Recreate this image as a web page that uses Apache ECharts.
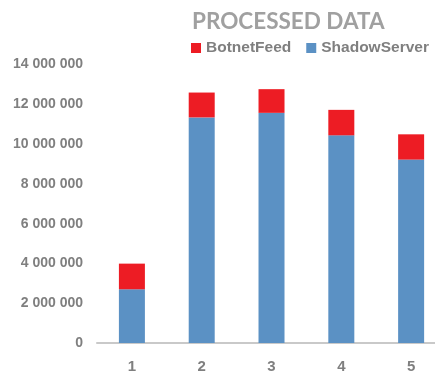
<!DOCTYPE html>
<html>
<head>
<meta charset="utf-8">
<script src="https://cdn.jsdelivr.net/npm/echarts@6/dist/echarts.min.js"></script>
<style>
html,body{margin:0;padding:0;background:#fff;}
#chart{width:435px;height:374px;}
</style>
</head>
<body>
<div id="chart"></div>
<script>
var categories = ['1', '2', '3', '4', '5'];
var shadowServer = [2700000, 11340000, 11570000, 10440000, 9220000];
var botnetFeed = [1290000, 1250000, 1190000, 1280000, 1270000];
var yTicks = [0, 2000000, 4000000, 6000000, 8000000, 10000000, 12000000, 14000000];

function fmt(v) {
  return String(v).replace(/\B(?=(\d{3})+(?!\d))/g, ' ');
}
// value first, category index second, so the stack applies to the value dimension
function pairs(arr) {
  return arr.map(function (v, i) { return [v, i]; });
}
var catIdx = categories.map(function (c, i) { return i; });

var chart = echarts.init(document.getElementById('chart'), null, {renderer: 'canvas'});
chart.setOption({
  animation: false,
  backgroundColor: '#ffffff',
  title: {
    text: 'PROCESSED DATA',
    left: 192,
    top: 10,
    padding: 0,
    textStyle: {
      fontFamily: 'Lato',
      fontWeight: 'bold',
      fontSize: 22.5,
      color: '#a0a0a0'
    }
  },
  legend: {
    data: ['BotnetFeed', 'ShadowServer'],
    left: 186,
    top: 35,
    itemWidth: 10,
    itemHeight: 10,
    itemGap: 15,
    icon: 'rect',
    textStyle: {
      fontFamily: 'Liberation Sans',
      fontWeight: 'bold',
      fontSize: 15.5,
      color: '#7f7f7f'
    }
  },
  grid: {
    left: 97,
    right: 0,
    top: 64.5,
    height: 281,
    containLabel: false
  },
  xAxis: {
    type: 'value',
    min: -0.5,
    max: 4.342,
    axisLine: {show: true, onZero: false, lineStyle: {color: '#c9c9c9', width: 2}},
    axisTick: {show: false},
    splitLine: {show: false},
    axisLabel: {
      customValues: catIdx,
      margin: 16,
      fontFamily: 'Liberation Sans',
      fontWeight: 'bold',
      fontSize: 15,
      color: '#7f7f7f',
      formatter: function (v) { return categories[Math.round(v)]; }
    }
  },
  yAxis: {
    type: 'value',
    min: yTicks[0],
    max: yTicks[yTicks.length - 1],
    interval: yTicks[1] - yTicks[0],
    axisLine: {show: false},
    axisTick: {show: false},
    splitLine: {show: false},
    axisLabel: {
      margin: 14,
      fontFamily: 'Liberation Sans',
      fontWeight: 'bold',
      fontSize: 14,
      color: '#7f7f7f',
      formatter: function (v) { return fmt(v); }
    }
  },
  series: [
    {
      name: 'ShadowServer',
      type: 'bar',
      stack: 'total',
      barWidth: 26,
      encode: {x: 1, y: 0},
      data: pairs(shadowServer),
      itemStyle: {color: '#5b91c4'}
    },
    {
      name: 'BotnetFeed',
      type: 'bar',
      stack: 'total',
      barWidth: 26,
      encode: {x: 1, y: 0},
      data: pairs(botnetFeed),
      itemStyle: {color: '#ed1c24'}
    }
  ]
});
</script>
</body>
</html>
